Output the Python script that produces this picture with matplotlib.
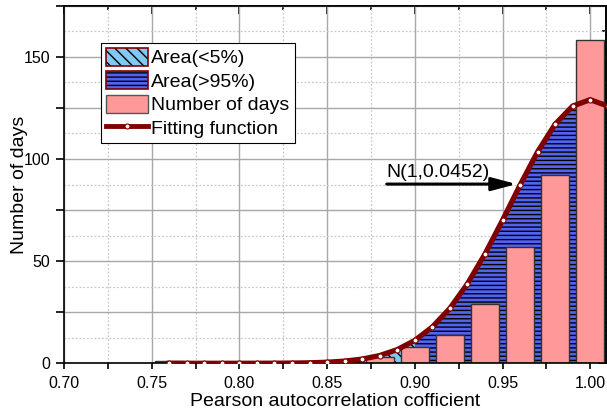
import numpy as np
import matplotlib
matplotlib.use("Agg")
import matplotlib.pyplot as plt
from matplotlib.patches import Patch
from matplotlib.lines import Line2D
from matplotlib.ticker import MultipleLocator, FuncFormatter, FormatStrFormatter

plt.rcParams["font.family"] = ["Liberation Sans", "DejaVu Sans"]
plt.rcParams["hatch.linewidth"] = 1.0

# histogram of daily Pearson autocorrelation
bin_centers = [0.76, 0.78, 0.80, 0.82, 0.84, 0.86, 0.88,
               0.90, 0.92, 0.94, 0.96, 0.98, 1.00]
days = [1, 0, 0, 0, 0, 1, 3, 8, 14, 29, 57, 92, 158]

# fitted curve, N(1, 0.0452), read at 0.01 steps
fit_x = [0.76, 0.77, 0.78, 0.79, 0.80, 0.81, 0.82, 0.83, 0.84, 0.85,
         0.86, 0.87, 0.88, 0.89, 0.90, 0.91, 0.92, 0.93, 0.94, 0.95,
         0.96, 0.97, 0.98, 0.99, 1.00, 1.01]
fit_y = [0.0, 0.0, 0.0, 0.0, 0.01, 0.02, 0.05, 0.11, 0.24, 0.52,
         1.07, 2.06, 3.8, 6.7, 11.2, 17.8, 26.9, 38.9, 53.5, 70.0,
         87.2, 103.5, 117.0, 125.9, 129.0, 125.9]
split_x = 0.90  # boundary between the two shaded areas

legend_labels = ["Area(<5%)", "Area(>95%)", "Number of days", "Fitting function"]

PINK = "#FF9999"
BLUE = "#5263F0"
LIGHT_BLUE = "#80CAF2"
DARK_RED = "#800000"
HATCH_LO = "\\\\\\"
HATCH_HI = "----"

fig = plt.figure(figsize=(6.07, 4.16), dpi=100)
ax = fig.add_axes([64 / 607, 52.7 / 416, 542 / 607, 357.6 / 416])

fx = np.array(fit_x)
fy = np.array(fit_y)
ax.fill_between(fx, 0, fy, where=fx <= split_x, facecolor=LIGHT_BLUE,
                edgecolor="black", linewidth=0, hatch=HATCH_LO, zorder=1)
ax.fill_between(fx, 0, fy, where=fx >= split_x, facecolor=BLUE,
                edgecolor="black", linewidth=0, hatch=HATCH_HI, zorder=1)
ax.bar(bin_centers, days, width=0.016, color=PINK, edgecolor="#333333",
       linewidth=1.0, zorder=2)
ax.plot(fx, fy, color=DARK_RED, lw=3.8, marker="o", ms=3.6, mfc="white",
        mec=DARK_RED, mew=0.8, zorder=3)

ax.annotate("", xy=(0.958, 87.7), xytext=(0.884, 87.7),
            arrowprops=dict(arrowstyle="-|>,head_length=0.75,head_width=0.2",
                            color="black", lw=2.2, mutation_scale=20,
                            shrinkA=0, shrinkB=0), zorder=4)
ax.text(0.884, 91, "N(1,0.0452)", fontsize=14, ha="left", va="baseline",
        zorder=4)

ax.set_xlim(0.70, 1.009)
ax.set_ylim(0, 175)
ax.xaxis.set_major_locator(MultipleLocator(0.05))
ax.xaxis.set_minor_locator(MultipleLocator(0.025))
ax.xaxis.set_major_formatter(FormatStrFormatter("%.2f"))
ax.yaxis.set_major_locator(MultipleLocator(25))
ax.yaxis.set_minor_locator(MultipleLocator(12.5))
ax.yaxis.set_major_formatter(
    FuncFormatter(lambda v, p: f"{int(round(v))}" if round(v) % 50 == 0 else ""))

ax.tick_params(axis="x", which="both", direction="out", labelsize=11.5,
               pad=5, width=1.2)
ax.tick_params(axis="x", which="major", length=4)
ax.tick_params(axis="x", which="minor", length=4)
ax.tick_params(axis="y", which="major", direction="out", length=6, width=1.2,
               labelsize=11.5, pad=4)
ax.tick_params(axis="y", which="minor", length=0)

top = ax.secondary_xaxis("top")
top.xaxis.set_major_locator(MultipleLocator(0.05))
top.xaxis.set_minor_locator(MultipleLocator(0.025))
top.tick_params(which="both", direction="in", labeltop=False, width=1.2)
top.tick_params(which="major", length=6)
top.tick_params(which="minor", length=3)
right = ax.secondary_yaxis("right")
right.yaxis.set_major_locator(MultipleLocator(25))
right.yaxis.set_minor_locator(MultipleLocator(12.5))
right.tick_params(which="both", direction="in", labelright=False, width=1.2)
right.tick_params(which="major", length=6)
right.tick_params(which="minor", length=3)
for sec in (top, right):
    for sp in sec.spines.values():
        sp.set_linewidth(1.2)

for sp in ax.spines.values():
    sp.set_linewidth(1.2)

ax.set_axisbelow(True)
ax.grid(which="major", color="#a8a8a8", lw=1.0, ls="-")
ax.grid(which="minor", color="#c8c8c8", lw=0.9, ls=(0, (1.5, 1.5)))

ax.set_xlabel("Pearson autocorrelation cofficient", fontsize=14)
ax.set_ylabel("Number of days", fontsize=14)
ax.xaxis.set_label_coords(0.5, -0.083)
ax.yaxis.set_label_coords(-0.066, 0.5)

handles = [
    (Patch(facecolor=LIGHT_BLUE, edgecolor="black", hatch=HATCH_LO, lw=0),
     Patch(facecolor="none", edgecolor=DARK_RED, lw=1.2)),
    (Patch(facecolor=BLUE, edgecolor="black", hatch=HATCH_HI, lw=0),
     Patch(facecolor="none", edgecolor=DARK_RED, lw=1.2)),
    Patch(facecolor=PINK, edgecolor="#555555", lw=1.0),
    Line2D([], [], color=DARK_RED, lw=3.5, marker="o", ms=3.6, mfc="white",
           mec=DARK_RED, mew=0.8),
]
leg = ax.legend(handles, legend_labels, loc="upper left",
                bbox_to_anchor=(0.068, 0.896), borderaxespad=0, fontsize=14,
                handlelength=2.2, handleheight=1.05, handletextpad=0.15,
                labelspacing=0.2, borderpad=0.25, fancybox=False,
                edgecolor="black", framealpha=1)
leg.get_frame().set_linewidth(0.8)
leg.set_zorder(5)

fig.savefig("out.png", dpi=100, facecolor="white")
